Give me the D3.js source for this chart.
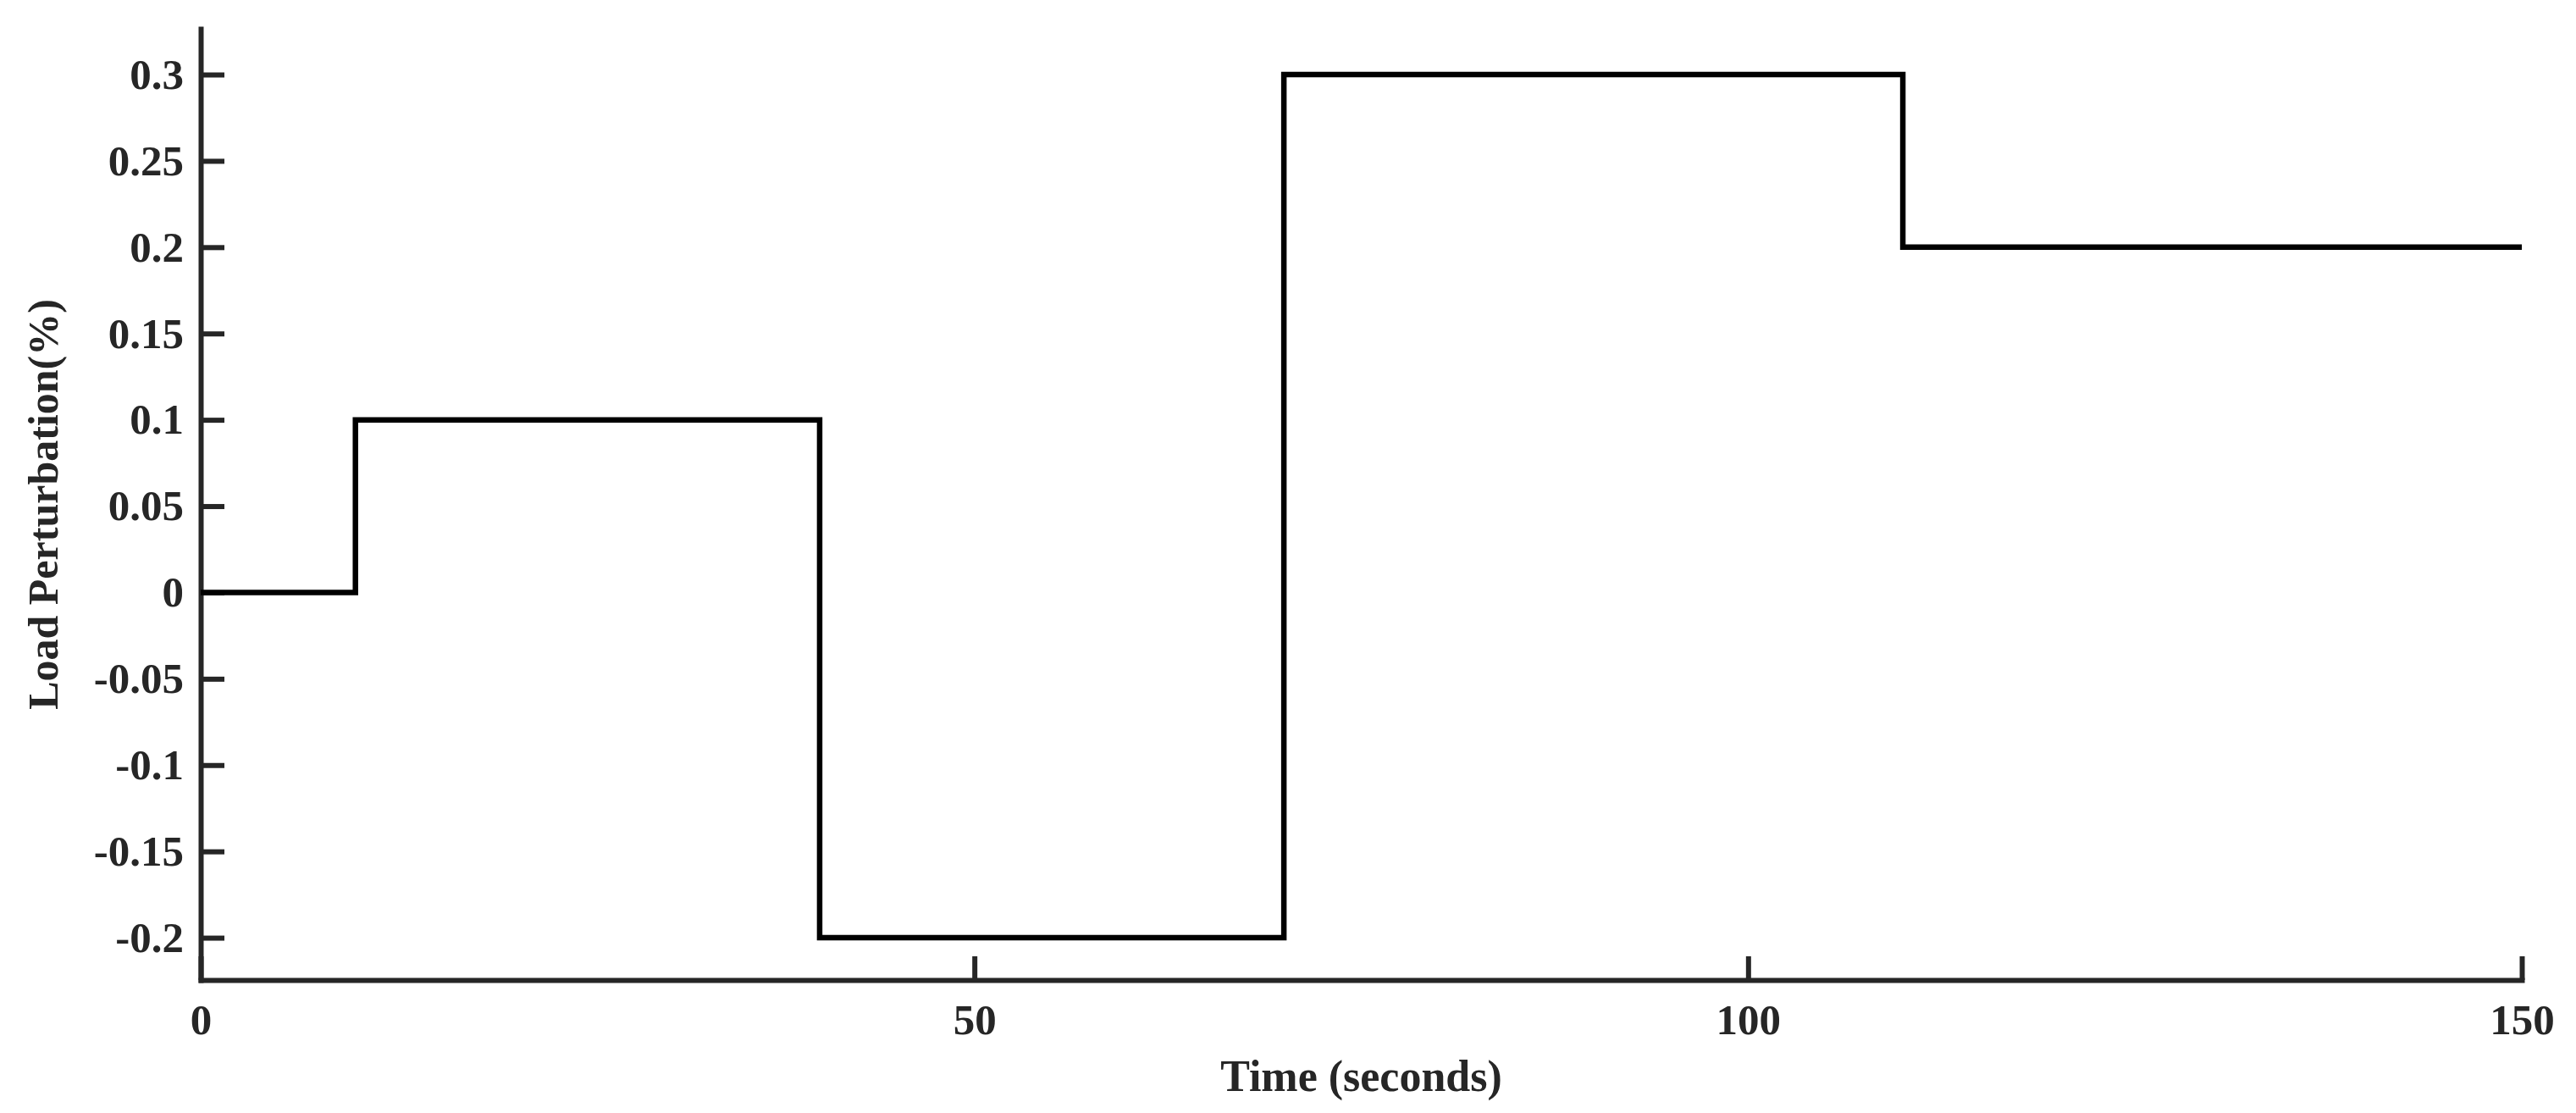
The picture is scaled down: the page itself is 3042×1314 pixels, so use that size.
<!DOCTYPE html>
<html>
<head>
<meta charset="utf-8">
<script src="https://cdn.jsdelivr.net/npm/d3@7"></script>
<style>
  html, body { margin: 0; padding: 0; background: #fff; }
  svg text { font-family: "Liberation Serif", "Times New Roman", serif; font-weight: bold; fill: #262626; }
  .axis path, .axis line { stroke: #262626; stroke-width: 6; }
  .axis text { font-size: 51px; }
  .load-line { fill: none; stroke: #000; stroke-width: 6.5; stroke-linejoin: miter; }
</style>
</head>
<body>
<div id="chart"></div>
<script>
// step changes of the load perturbation
const stepTimes = [0, 10, 40, 70, 110, 150];
const stepValues = [0, 0.1, -0.2, 0.3, 0.2, 0.2];

const xTicks = [0, 50, 100, 150];
const yTicks = [-0.2, -0.15, -0.1, -0.05, 0, 0.05, 0.1, 0.15, 0.2, 0.25, 0.3];

const xTitle = "Time (seconds)";
const yTitle = "Load Perturbation(%)";

let width = 3042, height = 1314;
let margin = { top: 34, right: 64, bottom: 157, left: 237 };
let innerW = width - margin.left - margin.right;
let innerH = height - margin.top - margin.bottom;

let svg = d3.select("#chart").append("svg")
    .attr("width", width)
    .attr("height", height);

let g = svg.append("g")
    .attr("transform", "translate(" + margin.left + "," + margin.top + ")");

let x = d3.scaleLinear()
    .domain([0, 150])
    .range([0, innerW]);

let y = d3.scaleLinear()
    .domain([-0.2245, 0.3265])
    .range([innerH, 0]);

// ticks point inward like the original figure
g.append("g")
    .attr("class", "axis axis--x")
    .attr("transform", "translate(0," + innerH + ")")
    .call(d3.axisBottom(x)
        .tickValues(xTicks)
        .tickSizeInner(-28)
        .tickSizeOuter(0)
        .tickPadding(28)
        .tickFormat(d => String(d)));

// plain hyphen for negatives, as in the figure
g.append("g")
    .attr("class", "axis axis--y")
    .call(d3.axisLeft(y)
        .tickValues(yTicks)
        .tickSizeInner(-28)
        .tickSizeOuter(0)
        .tickPadding(20)
        .tickFormat(d => String(+d.toFixed(2))));

g.selectAll(".axis path").attr("stroke-linecap", "square");

let line = d3.line()
    .x(d => x(d[0]))
    .y(d => y(d[1]))
    .curve(d3.curveStepAfter);

g.append("path")
    .datum(d3.zip(stepTimes, stepValues))
    .attr("class", "load-line")
    .attr("d", line);

g.append("text")
    .attr("x", innerW / 2)
    .attr("y", innerH + 131)
    .attr("text-anchor", "middle")
    .style("font-size", "52px")
    .text(xTitle);

g.append("text")
    .attr("transform", "translate(" + (-169) + "," + (innerH / 2) + ") rotate(-90)")
    .attr("text-anchor", "middle")
    .style("font-size", "50px")
    .text(yTitle);
</script>
</body>
</html>
